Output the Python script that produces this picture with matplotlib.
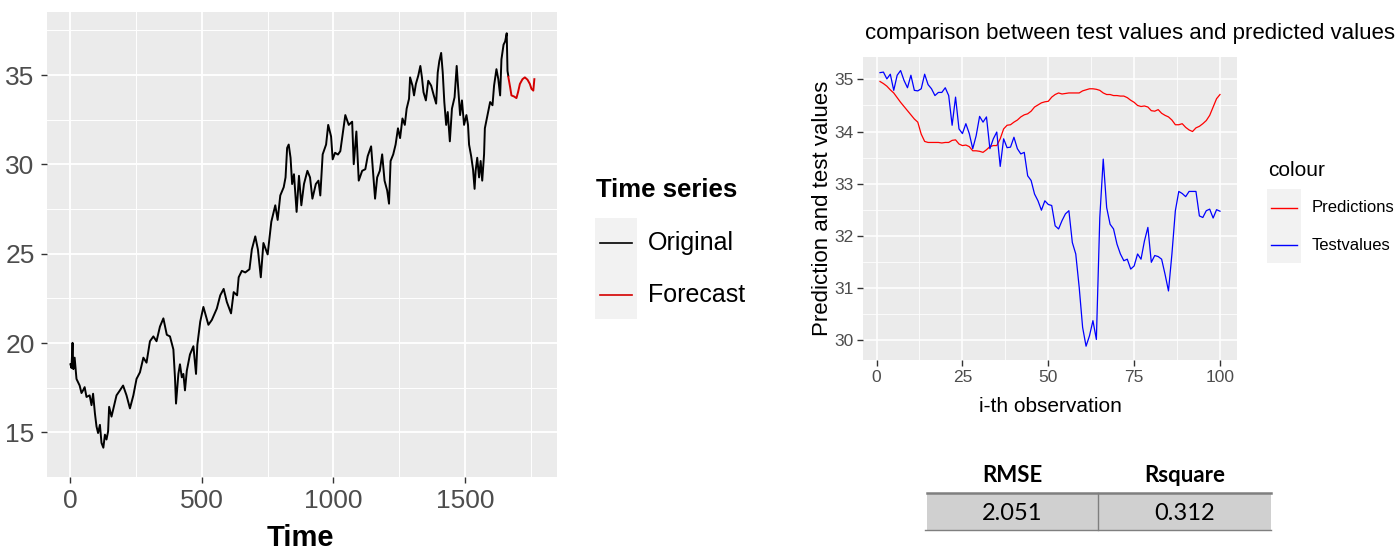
# Time series forecast + test/prediction comparison

import numpy as np
import matplotlib.pyplot as plt
from matplotlib.patches import Rectangle

# ---- data ----
# left panel: original series (time, value) and the forecast
orig_t = [1, 5, 9, 12, 17, 24, 36, 43, 49, 55, 62, 74, 81, 87, 94, 100, 106, 113,
          119, 126, 132, 138, 144, 148, 157, 163, 176, 189, 201, 214, 227, 240, 252,
          265, 278, 290, 303, 316, 328, 341, 354, 367, 379, 392, 398, 402, 411, 417,
          424, 430, 436, 443, 455, 468, 478, 483, 494, 506, 525, 538, 557, 570, 583,
          595, 611, 621, 634, 640, 652, 665, 681, 690, 703, 713, 724, 734, 750, 764,
          779, 788, 798, 811, 818, 824, 830, 837, 843, 850, 860, 869, 878, 888, 901,
          911, 920, 933, 943, 950, 959, 972, 980, 991, 997, 1006, 1017, 1026, 1045,
          1058, 1071, 1077, 1087, 1096, 1109, 1121, 1130, 1143, 1150, 1158, 1166,
          1176, 1185, 1194, 1204, 1211, 1217, 1227, 1236, 1245, 1253, 1262, 1271,
          1278, 1287, 1291, 1300, 1306, 1313, 1322, 1330, 1336, 1342, 1351, 1360,
          1371, 1381, 1390, 1396, 1402, 1409, 1415, 1421, 1428, 1434, 1442, 1450,
          1460, 1468, 1473, 1481, 1488, 1496, 1505, 1511, 1515, 1523, 1530, 1536,
          1540, 1546, 1553, 1559, 1565, 1572, 1575, 1585, 1595, 1604, 1610, 1619,
          1626, 1633, 1638, 1646, 1652, 1658, 1661, 1664]
orig_v = [18.81, 18.6, 20.01, 18.54, 19.18, 17.99, 17.62, 17.2, 17.35, 17.53, 16.98,
          17.07, 16.52, 17.16, 16.06, 15.33, 14.96, 15.42, 14.41, 14.14, 14.87, 14.6,
          15.05, 16.43, 15.88, 16.25, 17.07, 17.35, 17.62, 17.07, 16.34, 17.07, 17.99,
          18.36, 19.18, 18.9, 20.1, 20.37, 20.1, 20.92, 21.38, 20.46, 20.37, 19.64,
          18.08, 16.61, 18.27, 18.81, 18.08, 18.27, 17.35, 18.45, 19.36, 19.82, 18.27,
          19.9, 21.2, 22.02, 21.02, 21.29, 21.93, 22.67, 23.03, 22.3, 21.66, 22.85,
          22.67, 23.68, 24.04, 23.95, 24.13, 25.24, 25.97, 25.24, 23.68, 25.6, 24.96,
          26.79, 27.71, 26.89, 28.26, 28.72, 29.27, 30.92, 31.11, 30.37, 28.9, 29.45,
          27.34, 29.36, 27.71, 28.9, 29.64, 29.27, 28.08, 28.9, 29.09, 28.26, 30.56,
          31.11, 32.21, 31.56, 30.28, 30.65, 30.55, 30.74, 32.76, 32.21, 32.39, 30.01,
          31.84, 29.09, 29.64, 29.73, 30.46, 31.01, 29.64, 28.08, 29.27, 29.64, 30.56,
          29.09, 28.54, 27.8, 30.19, 30.56, 31.11, 32.02, 31.47, 32.57, 32.21, 33.12,
          33.67, 34.87, 34.41, 33.86, 34.5, 34.96, 35.51, 34.87, 34.04, 33.58, 34.68,
          34.41, 33.86, 33.4, 35.14, 35.78, 36.24, 35.14, 33.49, 32.21, 32.93, 31.29,
          33.12, 33.76, 35.51, 34.41, 32.76, 33.58, 32.21, 32.76, 32.21, 31.11, 30.46,
          29.73, 28.63, 29.64, 30.37, 29.27, 30.19, 29.09, 30.56, 32.02, 32.76, 33.49,
          33.31, 34.41, 35.33, 34.78, 33.86, 35.88, 36.7, 36.88, 37.34, 35.23, 34.96]
fc_t = [1664, 1671, 1676, 1686, 1695, 1701, 1708, 1718, 1727, 1737, 1746, 1752, 1759, 1763]
fc_v = [34.9, 34.32, 33.86, 33.8, 33.71, 34.04, 34.5, 34.77, 34.87, 34.74, 34.5, 34.23,
        34.13, 34.77]

# right panel: observation index, predictions and test values
obs = list(range(1, 101))
predictions = [34.96, 34.92, 34.87, 34.8, 34.74, 34.65, 34.56, 34.48, 34.4, 34.32,
               34.24, 34.18, 33.95, 33.81, 33.79, 33.79, 33.79, 33.79, 33.78, 33.79,
               33.79, 33.83, 33.84, 33.76, 33.73, 33.74, 33.71, 33.63, 33.63, 33.62,
               33.6, 33.65, 33.71, 33.73, 33.73, 33.86, 34.05, 34.12, 34.13, 34.18,
               34.22, 34.28, 34.32, 34.34, 34.39, 34.47, 34.51, 34.55, 34.57, 34.58,
               34.66, 34.71, 34.74, 34.72, 34.73, 34.74, 34.74, 34.74, 34.74, 34.78,
               34.8, 34.82, 34.82, 34.81, 34.79, 34.74, 34.71, 34.71, 34.69, 34.69,
               34.68, 34.68, 34.65, 34.6, 34.56, 34.5, 34.48, 34.49, 34.47, 34.4,
               34.39, 34.42, 34.35, 34.31, 34.28, 34.22, 34.13, 34.13, 34.15, 34.08,
               34.03, 34.0, 34.07, 34.1, 34.15, 34.21, 34.31, 34.47, 34.63, 34.71]
testvalues = [35.13, 35.14, 35.01, 35.1, 34.79, 35.08, 35.17, 34.98, 34.84, 35.08,
              34.79, 34.78, 34.82, 35.1, 34.9, 34.82, 34.69, 34.75, 34.75, 34.84,
              34.69, 34.12, 34.66, 34.05, 33.96, 34.15, 33.96, 33.67, 33.92, 34.29,
              34.18, 34.28, 33.67, 33.86, 33.99, 33.33, 33.86, 33.69, 33.7, 33.89,
              33.67, 33.57, 33.6, 33.15, 33.06, 32.8, 32.67, 32.49, 32.67, 32.6,
              32.58, 32.19, 32.13, 32.29, 32.42, 32.48, 31.87, 31.65, 31.01, 30.24,
              29.88, 30.08, 30.37, 30.01, 32.35, 33.47, 32.54, 32.22, 32.13, 31.84,
              31.65, 31.52, 31.55, 31.36, 31.42, 31.65, 31.55, 31.9, 32.16, 31.49,
              31.62, 31.6, 31.55, 31.26, 30.94, 31.65, 32.48, 32.85, 32.81, 32.75,
              32.85, 32.85, 32.85, 32.38, 32.35, 32.48, 32.51, 32.34, 32.5, 32.47]

table_headers = ['RMSE', 'Rsquare']
table_values = [2.051, 0.312]

# ---- figure ----
W, H = 1399, 551
fig = plt.figure(figsize=(W / 100, H / 100), dpi=100)
LEFT_FONT = ['Liberation Sans', 'DejaVu Sans']
RIGHT_FONT = ['Liberation Sans', 'DejaVu Sans']


def px_axes(x0, y0, x1, y1):
    # pixel box with the origin at the top-left corner
    return fig.add_axes([x0 / W, 1 - y1 / H, (x1 - x0) / W, (y1 - y0) / H])


def gg_style(ax, major_lw, minor_lw, font, size, pad):
    ax.set_facecolor('#EBEBEB')
    for s in ax.spines.values():
        s.set_visible(False)
    ax.grid(which='major', color='white', lw=major_lw)
    ax.grid(which='minor', color='white', lw=minor_lw)
    ax.set_axisbelow(True)
    ax.tick_params(which='major', length=4, width=1, color='#333333',
                   labelcolor='#4D4D4D', labelsize=size, pad=pad)
    ax.tick_params(which='minor', length=0)
    for lab in ax.get_xticklabels() + ax.get_yticklabels():
        lab.set_family(font)


# left panel
ax1 = px_axes(47, 12, 557, 477)
ax1.plot(orig_t, orig_v, color='black', lw=1.4)
ax1.plot(fc_t, fc_v, color='#D40000', lw=1.4)
ax1.set_xlim(-88, 1849)
ax1.set_ylim(12.94, 38.53)
ax1.set_xticks([0, 500, 1000, 1500])
ax1.set_xticks([250, 750, 1250, 1750], minor=True)
ax1.set_yticks([15, 20, 25, 30, 35])
ax1.set_yticks([12.5, 17.5, 22.5, 27.5, 32.5, 37.5], minor=True)
gg_style(ax1, 1.3, 0.7, LEFT_FONT, 19, 5)

# right panel
ax2 = px_axes(863, 57, 1237, 360)
ax2.plot(obs, predictions, color='#FF0000', lw=0.9)
ax2.plot(obs, testvalues, color='#0000FF', lw=0.9)
ax2.set_xlim(-3.95, 104.95)
ax2.set_ylim(29.615, 35.43)
ax2.set_xticks([0, 25, 50, 75, 100])
ax2.set_xticks([12.5, 37.5, 62.5, 87.5], minor=True)
ax2.set_yticks([30, 31, 32, 33, 34, 35])
ax2.set_yticks([30.5, 31.5, 32.5, 33.5, 34.5], minor=True)
gg_style(ax2, 1.1, 0.55, RIGHT_FONT, 12.5, 3)

# overlay in pixel coordinates for titles, legends and the table
ov = fig.add_axes([0, 0, 1, 1])
ov.set_xlim(0, W)
ov.set_ylim(H, 0)
ov.axis('off')

ov.text(300, 538, 'Time', fontsize=21, family=LEFT_FONT, weight='bold',
        ha='center', va='center')
ov.text(865, 33, 'comparison between test values and predicted values',
        fontsize=16, family=RIGHT_FONT, ha='left', va='center')
ov.text(822, 208, 'Prediction and test values', fontsize=16, family=RIGHT_FONT,
        rotation=90, ha='center', va='center')
ov.text(1050, 406, 'i-th observation', fontsize=15, family=RIGHT_FONT,
        ha='center', va='center')

# left legend
ov.text(596, 190, 'Time series', fontsize=18.5, family=LEFT_FONT, weight='bold',
        ha='left', va='center')
ov.add_patch(Rectangle((595, 218), 42, 101, color='#F2F2F2', lw=0))
for y, c, lab in [(243, 'black', 'Original'), (295, '#D40000', 'Forecast')]:
    ov.plot([600, 632], [y, y], color=c, lw=1.2)
    ov.text(648, y, lab, fontsize=18, family=LEFT_FONT, ha='left', va='center')

# right legend
ov.text(1268, 170, 'colour', fontsize=15, family=RIGHT_FONT, ha='left', va='center')
ov.add_patch(Rectangle((1267, 189), 34, 74, color='#F2F2F2', lw=0))
for y, c, lab in [(208, '#FF0000', 'Predictions'), (245, '#0000FF', 'Testvalues')]:
    ov.plot([1271, 1297], [y, y], color=c, lw=1.0)
    ov.text(1312, y, lab, fontsize=12, family=RIGHT_FONT, ha='left', va='center')

# metrics table
col_x = [1012, 1185]
ov.add_patch(Rectangle((927, 493), 344, 37, color='#D0D0D0', lw=0))
ov.plot([927, 1271], [493, 493], color='#7F7F7F', lw=1.8)
ov.plot([925, 1271], [530, 530], color='#7F7F7F', lw=1.0)
ov.plot([1098, 1098], [493, 530], color='#7F7F7F', lw=1.0)
for x, head, val in zip(col_x, table_headers, table_values):
    ov.text(x, 476, head, fontsize=16, family=['Lato', 'DejaVu Sans'],
            weight='bold', ha='center', va='center')
    ov.text(x, 513, f'{val:.3f}', fontsize=17, family=['Lato', 'DejaVu Sans'],
            ha='center', va='center')

fig.savefig('out.png', dpi=100)
